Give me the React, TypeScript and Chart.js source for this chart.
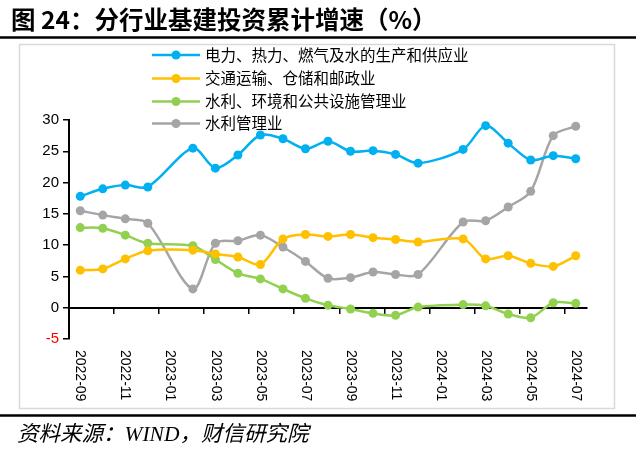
import React, { useEffect, useRef } from "react";
import { Chart, registerables } from "chart.js";

Chart.register(...registerables);

const titleText = "图 24：分行业基建投资累计增速（%）";
const sourceText = "资料来源：WIND，财信研究院";

const categories = [
  "2022-09", "2022-10", "2022-11", "2022-12",
  "2023-01", "2023-02", "2023-03", "2023-04", "2023-05", "2023-06",
  "2023-07", "2023-08", "2023-09", "2023-10", "2023-11", "2023-12",
  "2024-01", "2024-02", "2024-03", "2024-04", "2024-05", "2024-06", "2024-07",
];

const seriesNames = [
  "电力、热力、燃气及水的生产和供应业",
  "交通运输、仓储和邮政业",
  "水利、环境和公共设施管理业",
  "水利管理业",
];

const powerHeatGasWater = [17.8, 19.0, 19.6, 19.3, null, 25.5, 22.3, 24.4, 27.6, 27.0, 25.4, 26.6, 25.0, 25.1, 24.5, 23.1, null, 25.3, 29.1, 26.3, 23.6, 24.3, 23.8];
const transportStoragePost = [6.0, 6.2, 7.8, 9.1, null, 9.2, 8.6, 8.1, 6.9, 11.0, 11.7, 11.4, 11.7, 11.2, 10.9, 10.5, null, 11.0, 7.8, 8.3, 7.1, 6.6, 8.3];
const waterEnvPublic = [12.8, 12.7, 11.6, 10.3, null, 9.9, 7.7, 5.5, 4.6, 3.0, 1.5, 0.4, -0.2, -0.9, -1.2, 0.1, null, 0.5, 0.3, -1.0, -1.6, 0.8, 0.7];
const waterManagement = [15.5, 14.8, 14.2, 13.5, null, 3.0, 10.3, 10.7, 11.6, 9.7, 7.4, 4.7, 4.8, 5.7, 5.3, 5.3, null, 13.7, 13.9, 16.1, 18.6, 27.5, 29.0];

const seriesColors = ["#00B0F0", "#FFC000", "#92D050", "#A5A5A5"];

const yMin = -5;
const yMax = 30;
const yStep = 5;

const CJK = '"Noto Sans CJK SC", "Noto Sans", sans-serif';

const decorPlugin = {
  id: "decor",
  beforeDraw(chart: any) {
    const ctx = chart.ctx;
    const W = chart.width;
    ctx.save();
    ctx.fillStyle = "#ffffff";
    ctx.fillRect(0, 0, W, chart.height);

    // title
    ctx.fillStyle = "#000";
    ctx.font = `bold 24.5px ${CJK}`;
    ctx.textBaseline = "middle";
    ctx.textAlign = "left";
    ctx.fillText(titleText, 11, 20);

    // title underline
    ctx.strokeStyle = "#000";
    ctx.lineWidth = 2.5;
    ctx.beginPath();
    ctx.moveTo(0, 37.5);
    ctx.lineTo(636, 37.5);
    ctx.stroke();

    // chart frame
    ctx.strokeStyle = "#D9D9D9";
    ctx.lineWidth = 1.5;
    ctx.strokeRect(19.5, 44.5, 595, 364);

    // bottom line
    ctx.strokeStyle = "#000";
    ctx.lineWidth = 2.5;
    ctx.beginPath();
    ctx.moveTo(0, 415.5);
    ctx.lineTo(636, 415.5);
    ctx.stroke();

    // source
    ctx.fillStyle = "#000";
    ctx.font = `italic 21.5px "Liberation Serif", ${CJK}`;
    ctx.textBaseline = "middle";
    ctx.fillText(sourceText, 17, 435);

    // legend
    const rows = [55, 78.5, 101.5, 123.5];
    seriesNames.forEach((name, i) => {
      const y = rows[i];
      ctx.strokeStyle = seriesColors[i];
      ctx.lineWidth = 2.5;
      ctx.beginPath();
      ctx.moveTo(152, y);
      ctx.lineTo(200, y);
      ctx.stroke();
      ctx.fillStyle = seriesColors[i];
      ctx.beginPath();
      ctx.arc(176, y, 4.5, 0, Math.PI * 2);
      ctx.fill();
      ctx.fillStyle = "#000";
      ctx.font = `15.5px ${CJK}`;
      ctx.textBaseline = "middle";
      ctx.fillText(name, 205, y);
    });
    ctx.restore();
  },
  afterDraw(chart: any) {
    const ctx = chart.ctx;
    const xs = chart.scales.x;
    ctx.save();
    ctx.fillStyle = "#000";
    ctx.font = '14px "Liberation Sans", Arial, sans-serif';
    ctx.textAlign = "left";
    ctx.textBaseline = "middle";
    categories.forEach((c, i) => {
      if (i % 2 !== 0) return;
      const x = xs.getPixelForValue(i);
      ctx.save();
      ctx.translate(x, 350);
      ctx.rotate(Math.PI / 2);
      ctx.fillText(c, 0, 0);
      ctx.restore();
    });
    ctx.restore();
  },
};

export default function App() {
  const ref = useRef<HTMLCanvasElement | null>(null);

  useEffect(() => {
    if (!ref.current) return;
    const allSeries = [powerHeatGasWater, transportStoragePost, waterEnvPublic, waterManagement];
    const chart = new Chart(ref.current, {
      type: "line",
      data: {
        labels: categories,
        datasets: allSeries.map((data, i) => ({
          label: seriesNames[i],
          data,
          borderColor: seriesColors[i],
          backgroundColor: seriesColors[i],
          pointBackgroundColor: seriesColors[i],
          pointBorderColor: seriesColors[i],
          borderWidth: 2.5,
          pointRadius: 4.5,
          pointBorderWidth: 0,
          tension: 0.3,
          spanGaps: true,
          fill: false,
        })),
      },
      options: {
        responsive: false,
        animation: false,
        devicePixelRatio: 1,
        layout: { padding: { left: 19, right: 53, top: 120, bottom: 114 } },
        plugins: {
          legend: { display: false },
          tooltip: { enabled: false },
          title: { display: false },
        },
        scales: {
          x: {
            type: "category",
            position: { y: 0 } as any,
            offset: true,
            afterFit: (s: any) => { s.height = 0; },
            grid: {
              offset: true,
              drawOnChartArea: false,
              drawTicks: true,
              tickLength: 5,
              lineWidth: 1.5,
              color: (c: any) => (c.index % 2 === 0 ? "#000" : "rgba(0,0,0,0)"),
            },
            border: { display: true, color: "#000", width: 2 },
            ticks: { display: false, autoSkip: false },
          },
          y: {
            type: "linear",
            position: "left",
            min: yMin,
            max: yMax,
            afterFit: (s: any) => { s.width = 50; },
            grid: {
              drawOnChartArea: false,
              drawTicks: true,
              tickLength: 6,
              lineWidth: 1.5,
              color: "#000",
            },
            border: { display: true, color: "#000", width: 2 },
            ticks: {
              stepSize: yStep,
              padding: 4,
              font: { family: '"Liberation Sans", Arial, sans-serif', size: 15 },
              color: (c: any) => (c.tick && c.tick.value < 0 ? "#FF0000" : "#000"),
            },
          },
        },
      },
      plugins: [decorPlugin],
    });
    return () => chart.destroy();
  }, []);

  return (
    <div style={{ position: "fixed", left: 0, top: 0, width: 640, height: 453, background: "#fff" }}>
      <canvas ref={ref} width={640} height={453} style={{ display: "block" }} />
    </div>
  );
}
